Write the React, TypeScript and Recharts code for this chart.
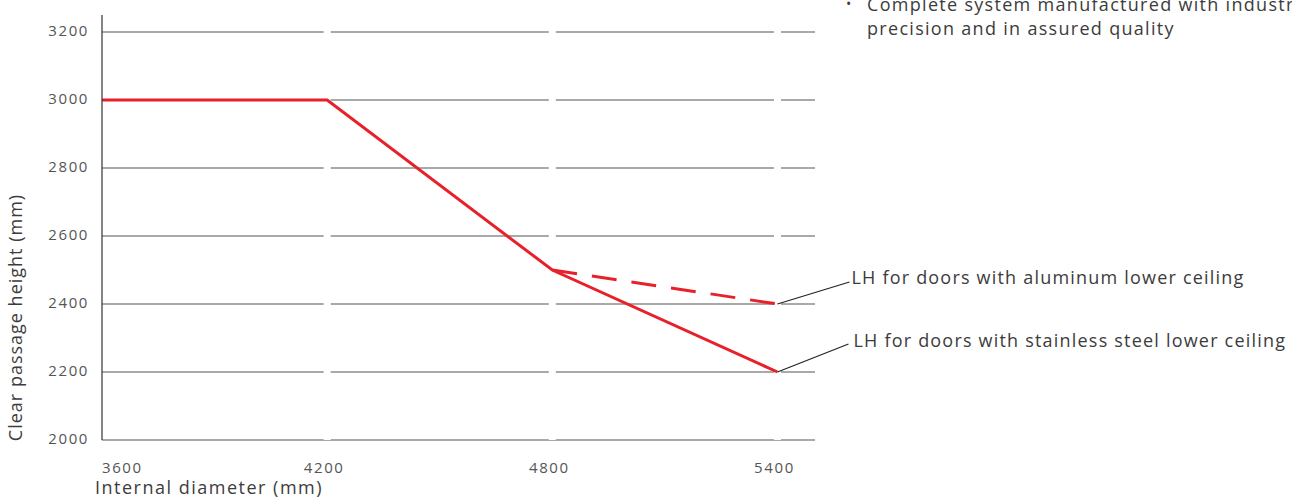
import React from 'react';
import {
  LineChart,
  Line,
  XAxis,
  YAxis,
  CartesianGrid,
  ReferenceDot,
} from 'recharts';

// ---- data ----
const diameters = [3600, 4200, 4800, 5400];
const lhStainless = [3000, 3000, 2500, 2200];
const lhAluminum: (number | null)[] = [null, null, 2500, 2400];
const xTicks = [3600, 4200, 4800, 5400];
const gapTicks = [4200, 4800, 5400];
const yTicks = [2000, 2200, 2400, 2600, 2800, 3000, 3200];
const xDomain = [3600, 5500];
const yDomain = [2000, 3250];

const labelAluminum = 'LH for doors with aluminum lower ceiling';
const labelStainless = 'LH for doors with stainless steel lower ceiling';
const xTitle = 'Internal diameter (mm)';
const yTitle = 'Clear passage height (mm)';
const noteLines = ['Complete system manufactured with industrial', 'precision and in assured quality'];

const data = diameters.map((x, i) => ({ x, stainless: lhStainless[i], aluminum: lhAluminum[i] }));
const last = diameters.length - 1;

const FONT = '"Open Sans", "Noto Sans", sans-serif';
const RED = '#e8202a';
const TEXT = '#3c3c3c';

const XTick = (props: any) => {
  const { x, y, payload, index } = props;
  const first = index === 0;
  return (
    <text
      x={first ? x : x - 3}
      y={y}
      dy={33}
      textAnchor={first ? 'start' : 'middle'}
      fontFamily={FONT}
      fontSize={15}
      letterSpacing={1.6}
      fill="#555"
    >
      {payload.value}
    </text>
  );
};

const YTick = (props: any) => {
  const { x, y, payload } = props;
  return (
    <text
      x={x}
      y={y}
      dy={4}
      textAnchor="end"
      fontFamily={FONT}
      fontSize={15}
      letterSpacing={1.6}
      fill="#555"
    >
      {payload.value}
    </text>
  );
};

const XTitle = (props: any) => {
  const vb = props.viewBox || {};
  return (
    <text x={vb.x - 7} y={vb.y + 54} fontFamily={FONT} fontSize={18} letterSpacing={1.5} fill={TEXT}>
      {xTitle}
    </text>
  );
};

const YTitle = (props: any) => {
  const vb = props.viewBox || {};
  const cx = vb.x - 20;
  const cy = vb.y + vb.height / 2 + 90;
  return (
    <text
      x={cx}
      y={cy}
      transform={`rotate(-90 ${cx} ${cy})`}
      textAnchor="middle"
      fontFamily={FONT}
      fontSize={18}
      letterSpacing={1}
      fill={TEXT}
    >
      {yTitle}
    </text>
  );
};

const makeNote = (text: string, ldx: number, ldy: number, tdx: number, tdy: number) => (props: any) => {
  const { cx, cy } = props;
  if (cx == null || cy == null) return <g />;
  return (
    <g>
      <line x1={cx} y1={cy} x2={cx + ldx} y2={cy + ldy} stroke="#222" strokeWidth={1.2} />
      <text x={cx + tdx} y={cy + tdy} fontFamily={FONT} fontSize={18} letterSpacing={1.2} fill={TEXT}>
        {text}
      </text>
    </g>
  );
};

export default function App() {
  return (
    <div
      style={{
        position: 'absolute',
        left: 0,
        top: 0,
        width: 1292,
        height: 498,
        overflow: 'hidden',
        background: '#fff',
      }}
    >
      <LineChart
        width={1292}
        height={498}
        data={data}
        margin={{ top: 15, right: 477, bottom: 0, left: 42 }}
      >
        <CartesianGrid horizontal vertical={false} syncWithTicks stroke="#555" strokeWidth={1.2} />
        <XAxis xAxisId="gap" dataKey="x" type="number" domain={xDomain} ticks={gapTicks} hide />
        <CartesianGrid
          xAxisId="gap"
          horizontal={false}
          vertical
          syncWithTicks
          stroke="#ffffff"
          strokeWidth={7}
        />
        <XAxis
          dataKey="x"
          type="number"
          domain={xDomain}
          ticks={xTicks}
          interval={0}
          axisLine={false}
          tickLine={false}
          tickSize={0}
          tickMargin={0}
          height={58}
          tick={<XTick />}
          label={<XTitle />}
        />
        <YAxis
          type="number"
          domain={yDomain}
          ticks={yTicks}
          interval={0}
          width={60}
          axisLine={{ stroke: '#333', strokeWidth: 1.2 }}
          tickLine={false}
          tickSize={0}
          tickMargin={13}
          tick={<YTick />}
          label={<YTitle />}
        />
        <Line
          dataKey="aluminum"
          stroke={RED}
          strokeWidth={3}
          strokeDasharray="25 15"
          dot={false}
          activeDot={false}
          connectNulls={false}
          isAnimationActive={false}
        />
        <Line
          dataKey="stainless"
          stroke={RED}
          strokeWidth={3}
          dot={false}
          activeDot={false}
          isAnimationActive={false}
        />
        <ReferenceDot
          x={diameters[last]}
          y={lhAluminum[last] as number}
          r={0}
          shape={makeNote(labelAluminum, 72, -22, 74, -20)}
        />
        <ReferenceDot
          x={diameters[last]}
          y={lhStainless[last]}
          r={0}
          shape={makeNote(labelStainless, 71, -28, 76, -25)}
        />
      </LineChart>
      <div
        style={{
          position: 'absolute',
          left: 846,
          top: -8,
          fontFamily: FONT,
          fontSize: 18,
          lineHeight: '24px',
          letterSpacing: 1.3,
          color: TEXT,
          whiteSpace: 'nowrap',
          display: 'flex',
        }}
      >
        <span style={{ width: 21, display: 'inline-block', fontSize: 14 }}>•</span>
        <span>
          {noteLines[0]}
          <br />
          {noteLines[1]}
        </span>
      </div>
    </div>
  );
}
